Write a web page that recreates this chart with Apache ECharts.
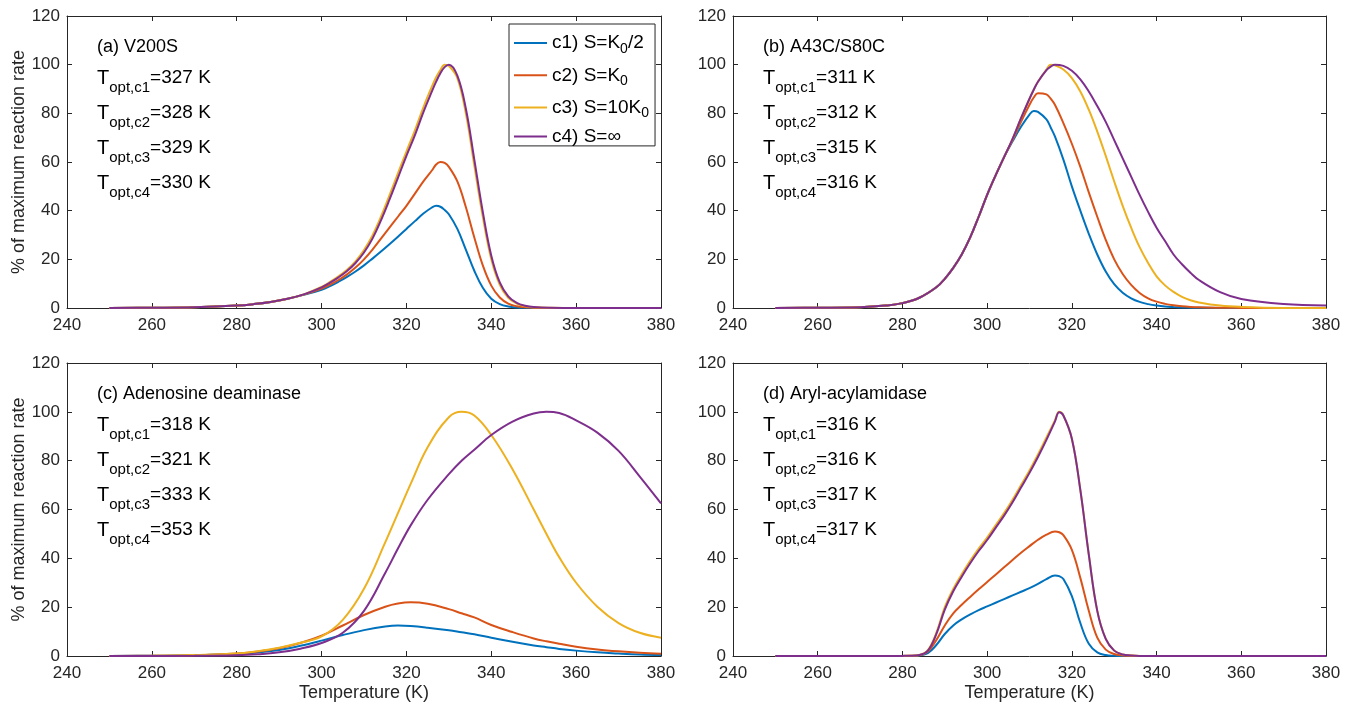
<!DOCTYPE html>
<html><head><meta charset="utf-8">
<script src="https://cdn.jsdelivr.net/npm/echarts@6/dist/echarts.min.js"></script>
<style>html,body{margin:0;padding:0;background:#fff}#c{width:1357px;height:709px}</style>
</head><body><div id="c"></div>
<script>
// ---- Data ----
const xTicks = [240, 260, 280, 300, 320, 340, 360, 380];
const yTicks = [0, 20, 40, 60, 80, 100, 120];
const seriesNames = ['c1', 'c2', 'c3', 'c4'];
const colors = ['#0072BD', '#D95319', '#EDB120', '#7E2F8E'];
const panelTitles = ['(a) V200S', '(b) A43C/S80C', '(c) Adenosine deaminase', '(d) Aryl-acylamidase'];
const toptA = ['327 K', '328 K', '329 K', '330 K'];
const toptB = ['311 K', '312 K', '315 K', '316 K'];
const toptC = ['318 K', '321 K', '333 K', '353 K'];
const toptD = ['316 K', '316 K', '317 K', '317 K'];

// Panel (a) V200S
const tA = [250,260,270,280,284,288,292,296,300,302,304,306,308,310,312,314,316,318,320,322,324,326,327,328,329,330,332,334,336,338,340,342,344,346,348,350,354,360,370,380];
const a1 = [0,0.1,0.3,1.0,1.6,2.5,3.8,5.5,7.5,9,10.8,12.8,15,17.5,20.3,23.2,26.2,29.3,32.5,35.7,38.8,41.3,42,41.6,40.3,38.5,32.5,24,15.3,8.3,3.8,1.6,0.6,0.2,0.1,0,0,0,0,0];
const a2 = [0,0.1,0.3,1.0,1.6,2.5,3.8,5.6,8,9.6,11.5,13.8,16.6,20,24,28.5,33,37.5,42,47,52,56.5,59,60,59.6,58,52,41.5,29,17.5,9.2,4.3,1.8,0.7,0.3,0.1,0,0,0,0];
const a3 = [0,0.1,0.3,1.0,1.6,2.5,3.8,5.7,8.7,10.7,13,15.7,19.2,23.8,29.8,37.5,46.3,55.3,64.3,73,82.5,91,94.8,97.8,100,99.5,94.5,80,58.5,37.5,20,9.5,4.2,1.8,0.7,0.3,0.1,0,0,0];
const a4 = [0,0.1,0.3,1.0,1.6,2.5,3.8,5.7,8.5,10.4,12.6,15.2,18.5,22.8,28.5,36,44.5,53.5,62.5,71,80.5,89,93,96.5,99,100,95.5,82,61,39.5,21.5,10.5,4.8,2.1,0.9,0.4,0.1,0,0,0];

// Panel (b) A43C/S80C
const tB = [250,260,270,276,280,284,288,290,292,294,296,298,300,302,304,306,308,310,311,312,314,315,316,318,320,322,324,326,328,330,332,334,336,338,340,342,344,346,348,350,355,360,370,380];
const b1 = [0,0.1,0.3,1,2,4.2,8.5,12,16.5,22,29,37.5,46.5,54.5,62,68.5,74.5,79.5,81,80.6,77.5,74.2,70.5,61,50,40,30.5,22,15,9.8,6.3,4,2.5,1.6,1,0.6,0.4,0.25,0.15,0.1,0,0,0,0];
const b2 = [0,0.1,0.3,1,2,4.2,8.5,12,16.5,22,29,37.5,46.5,54.5,62,69,76.5,83.5,86.5,88.3,87.8,86,83.5,76,67.5,58,47.5,37.5,28,20,14,9.5,6.2,4,2.6,1.7,1.1,0.7,0.45,0.3,0.1,0.05,0,0];
const b3 = [0,0.1,0.3,1,2,4.2,8.5,12,16.5,22,29,37.5,46.5,54.5,62,69.5,78,86,89.7,93,98,100,99.7,98,94.5,89,81.5,72.5,62.5,52,42,33,25,18.5,13,9.3,6.6,4.6,3.2,2.3,1.0,0.45,0.05,0];
const b4 = [0,0.1,0.3,1,2,4.2,8.5,12,16.5,22,29,37.5,46.5,54.5,62,69.5,78,86,89.7,93,97.8,99.2,100,99.5,97.5,94,89,83,76.5,69,61.5,54,46.5,39.5,33,27.5,22,18,14.5,11.5,6.5,3.7,1.6,1.0];

// Panel (c) Adenosine deaminase
const tC = [250,260,270,280,285,290,295,300,305,310,315,318,321,325,330,333,336,340,345,350,353,356,360,365,370,375,380];
const c1 = [0,0.1,0.3,0.8,1.5,2.5,4.2,6.3,8.6,10.6,12.1,12.5,12.3,11.6,10.5,9.7,8.9,7.5,5.8,4.3,3.6,2.9,2.2,1.5,1.0,0.6,0.4];
const c2 = [0,0.1,0.3,1,1.8,3.2,5.3,8.3,12.5,16.8,20.2,21.5,22,21.4,19.2,17.5,15.8,12.7,9.8,7.2,6.0,5.0,3.8,2.7,1.9,1.3,0.9];
const c3 = [0,0.1,0.4,1,2,3.4,5.4,8,14.8,27.5,46.5,58.5,70.5,85.5,97.8,100,98.5,90.5,76.5,60,50,40.5,30,20.2,13.5,9.5,7.5];
const c4 = [0,0,0.1,0.3,0.7,1.5,3,5.3,9.5,18.5,34,44,53.5,64,74.5,80,84.5,90.5,96,99.3,100,99.5,96.5,91.5,84,73.5,62.5];

// Panel (d) Aryl-acylamidase
const tD = [250,260,270,280,282,284,286,288,290,292,294,296,298,300,302,304,306,308,310,312,314,316,317,318,320,322,324,326,328,330,332,334,336,340,350,360,370,380];
const d1 = [0,0,0,0,0.05,0.2,1.2,4.5,9,12.5,15,17,18.8,20.3,21.8,23.3,24.8,26.3,27.8,29.5,31.5,33,32.7,31.5,24.5,13.5,5,1.5,0.4,0.1,0,0,0,0,0,0,0,0];
const d2 = [0,0,0,0,0.1,0.3,1.8,6.5,12.5,17.5,21,24.2,27.3,30.3,33.3,36.3,39.3,42.3,45,47.6,49.7,51,50.7,49.5,43.5,32,18.5,7.5,2.6,0.8,0.25,0.08,0,0,0,0,0,0];
const d3 = [0,0,0,0.05,0.1,0.4,2.4,9.5,20,27.5,33.5,39,44,48.5,53.5,58.5,64,70,76,82.5,89.5,96.5,100,98.5,89,68,41.5,18.5,7,2.2,0.6,0.2,0.05,0,0,0,0,0];
const d4 = [0,0,0,0.05,0.1,0.4,2.2,9,19,26.5,32.5,38,43,47.5,52.5,57.5,63,69,75,81.5,88.5,96,99.8,98.5,89,68,41.5,18.5,7,2.2,0.6,0.2,0.05,0,0,0,0,0];

const panels = [
  {t: tA, ys: [a1, a2, a3, a4], topt: toptA},
  {t: tB, ys: [b1, b2, b3, b4], topt: toptB},
  {t: tC, ys: [c1, c2, c3, c4], topt: toptC},
  {t: tD, ys: [d1, d2, d3, d4], topt: toptD}
];

// ---- Layout / style ----
const FONT = '"Liberation Sans", Arial, Helvetica, sans-serif';
const AX = '#262626';
const grids = [
  {left: 67, top: 16, width: 594, height: 292},
  {left: 733, top: 16, width: 593, height: 292},
  {left: 67, top: 363, width: 594, height: 293},
  {left: 733, top: 363, width: 593, height: 293}
];

const xAxes = [], yAxes = [], series = [], graphics = [];
grids.forEach((g, i) => {
  const bottomRow = i >= 2, leftCol = i % 2 === 0;
  const line = {show: true, onZero: false, lineStyle: {color: AX, width: 1}};
  const tick = {show: true, inside: true, length: 5, lineStyle: {color: AX}};
  xAxes.push({
    gridIndex: i, type: 'value', min: xTicks[0], max: xTicks[xTicks.length - 1], interval: 20, position: 'bottom',
    axisLine: line, axisTick: tick,
    axisLabel: {color: AX, fontSize: 17, fontFamily: FONT, margin: 9},
    splitLine: {show: false},
    name: bottomRow ? 'Temperature (K)' : '', nameLocation: 'middle', nameGap: 28,
    nameTextStyle: {color: AX, fontSize: 18, fontFamily: FONT}
  });
  xAxes.push({
    gridIndex: i, type: 'value', min: xTicks[0], max: xTicks[xTicks.length - 1], interval: 20, position: 'top',
    axisLine: line, axisTick: tick, axisLabel: {show: false}, splitLine: {show: false}
  });
  yAxes.push({
    gridIndex: i, type: 'value', min: yTicks[0], max: yTicks[yTicks.length - 1], interval: 20, position: 'left',
    axisLine: line, axisTick: tick,
    axisLabel: {color: AX, fontSize: 17, fontFamily: FONT, margin: 7},
    splitLine: {show: false},
    name: leftCol ? '% of maximum reaction rate' : '', nameLocation: 'middle', nameGap: 39, nameRotate: 90,
    nameTextStyle: {color: AX, fontSize: 18, fontFamily: FONT}
  });
  yAxes.push({
    gridIndex: i, type: 'value', min: yTicks[0], max: yTicks[yTicks.length - 1], interval: 20, position: 'right',
    axisLine: line, axisTick: tick, axisLabel: {show: false}, splitLine: {show: false}
  });
  const p = panels[i];
  p.ys.forEach((vals, j) => {
    series.push({
      type: 'line', name: seriesNames[j], xAxisIndex: 2 * i, yAxisIndex: 2 * i,
      data: p.t.map((t, k) => [t, vals[k]]),
      showSymbol: false, symbol: 'none', smooth: 0.4, clip: true,
      lineStyle: {width: 2, color: colors[j]}, itemStyle: {color: colors[j]},
      z: 2 + j
    });
  });
  // annotations
  const x0 = g.left + 30, yt = g.top;
  graphics.push({type: 'text', x: x0, y: yt + 31, z: 50,
    style: {text: panelTitles[i], fill: '#000', fontSize: 18, fontFamily: FONT, verticalAlign: 'middle', align: 'left'}});
  p.topt.forEach((v, j) => {
    graphics.push({type: 'text', x: x0, y: yt + 62 + 35 * j, z: 50,
      style: {
        text: '{t|T}{s|opt,c' + (j + 1) + '}{n|=' + v + '}',
        verticalAlign: 'middle', align: 'left', fill: '#000', fontFamily: FONT,
        rich: {
          t: {fontSize: 20, lineHeight: 34, fontFamily: FONT, fill: '#000'},
          s: {fontSize: 15, lineHeight: 14, padding: [20, 0, 0, 0], fontFamily: FONT, fill: '#000'},
          n: {fontSize: 19, lineHeight: 34, fontFamily: FONT, fill: '#000'}
        }
      }});
  });
});

const legendLabels = {
  c1: '{a|c1) S=K}{s|0}{a|/2}',
  c2: '{a|c2) S=K}{s|0}',
  c3: '{a|c3) S=10K}{s|0}',
  c4: '{a|c4) S=∞}'
};

const option = {
  animation: false,
  backgroundColor: '#fff',
  grid: grids,
  xAxis: xAxes,
  yAxis: yAxes,
  series: series,
  legend: {
    data: seriesNames, orient: 'vertical', left: 509, top: 24,
    icon: 'rect', itemWidth: 33, itemHeight: 2, itemGap: 6.3,
    padding: [6, 6, 0, 5],
    backgroundColor: '#fff', borderColor: AX, borderWidth: 1,
    formatter: n => legendLabels[n],
    textStyle: {
      color: '#000', fontSize: 19, fontFamily: FONT,
      rich: {
        a: {fontSize: 19, lineHeight: 24, fontFamily: FONT, color: '#000'},
        s: {fontSize: 14, lineHeight: 12, padding: [12, 0, 0, 0], fontFamily: FONT, color: '#000'}
      }
    },
    selectedMode: false
  },
  graphic: graphics
};
echarts.init(document.getElementById('c')).setOption(option);
</script>
</body></html>
